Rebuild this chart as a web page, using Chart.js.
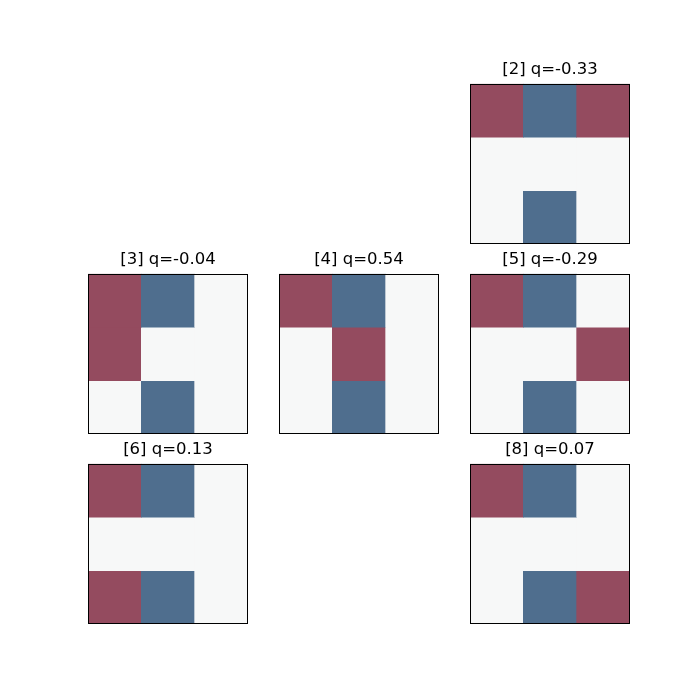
<!DOCTYPE html>
<html>
<head>
<meta charset="utf-8">
<script src="https://cdn.jsdelivr.net/npm/chart.js@4/dist/chart.umd.min.js"></script>
<style>
  html, body { margin: 0; padding: 0; background: #ffffff; }
  #fig { position: relative; width: 700px; height: 700px; overflow: hidden; }
  #fig canvas { position: absolute; }
</style>
</head>
<body>
<div id="fig"></div>
<script>
// ---- data ----
const panelIds = [2, 3, 4, 5, 6, 8];           // subplot index in a 3x3 grid
const qValues  = [-0.33, -0.04, 0.54, -0.29, 0.13, 0.07];
const colLabels = ['0', '1', '2'];
// cell states: 1 = red, -1 = blue, 0 = blank (rows top to bottom)
const grid2 = [[1, -1, 1], [0, 0, 0], [0, -1, 0]];
const grid3 = [[1, -1, 0], [1, 0, 0], [0, -1, 0]];
const grid4 = [[1, -1, 0], [0, 1, 0], [0, -1, 0]];
const grid5 = [[1, -1, 0], [0, 0, 1], [0, -1, 0]];
const grid6 = [[1, -1, 0], [0, 0, 0], [1, -1, 0]];
const grid8 = [[1, -1, 0], [0, 0, 0], [0, -1, 1]];
const grids = [grid2, grid3, grid4, grid5, grid6, grid8];

// ---- style ----
const stateColor = { '1': 'rgb(148,75,95)', '-1': 'rgb(79,110,142)', '0': 'rgb(247,248,248)' };
const colLeft = [88, 279, 470];
const rowTop = [84, 274, 464];
const boxSize = 160;
const titleH = 28;

const framePlugin = {
  id: 'frame',
  afterDraw(chart) {
    const a = chart.chartArea, ctx = chart.ctx;
    ctx.save();
    ctx.strokeStyle = '#000';
    ctx.lineWidth = 1;
    ctx.strokeRect(Math.round(a.left) + 0.5, Math.round(a.top) + 0.5,
                   Math.round(a.right - a.left) - 1, Math.round(a.bottom - a.top) - 1);
    ctx.restore();
  }
};

const fig = document.getElementById('fig');
panelIds.forEach((pid, i) => {
  const r = Math.floor(pid / 3), c = pid % 3;
  const canvas = document.createElement('canvas');
  canvas.width = boxSize;
  canvas.height = boxSize + titleH;
  canvas.style.left = colLeft[c] + 'px';
  canvas.style.top = (rowTop[r] - titleH) + 'px';
  canvas.style.width = boxSize + 'px';
  canvas.style.height = (boxSize + titleH) + 'px';
  fig.appendChild(canvas);

  const grid = grids[i];
  const datasets = grid.map((row, ri) => ({
    data: row.map(() => [ri, ri + 1]),
    backgroundColor: row.map(v => stateColor[String(v)]),
    borderWidth: 0,
    barPercentage: 1,
    categoryPercentage: 1,
    grouped: false
  }));

  new Chart(canvas, {
    type: 'bar',
    data: { labels: colLabels, datasets },
    options: {
      responsive: false,
      animation: false,
      devicePixelRatio: 1,
      layout: { padding: 0 },
      plugins: {
        legend: { display: false },
        tooltip: { enabled: false },
        title: {
          display: true,
          text: '[' + pid + '] q=' + qValues[i].toFixed(2),
          color: '#000',
          font: { family: 'DejaVu Sans', size: 16.5, weight: 'normal', lineHeight: 1.2 },
          padding: { top: 4, bottom: 4 }
        }
      },
      scales: {
        x: { display: false, offset: true },
        y: { display: false, min: 0, max: 3, reverse: true }
      }
    },
    plugins: [framePlugin]
  });
});
</script>
</body>
</html>
